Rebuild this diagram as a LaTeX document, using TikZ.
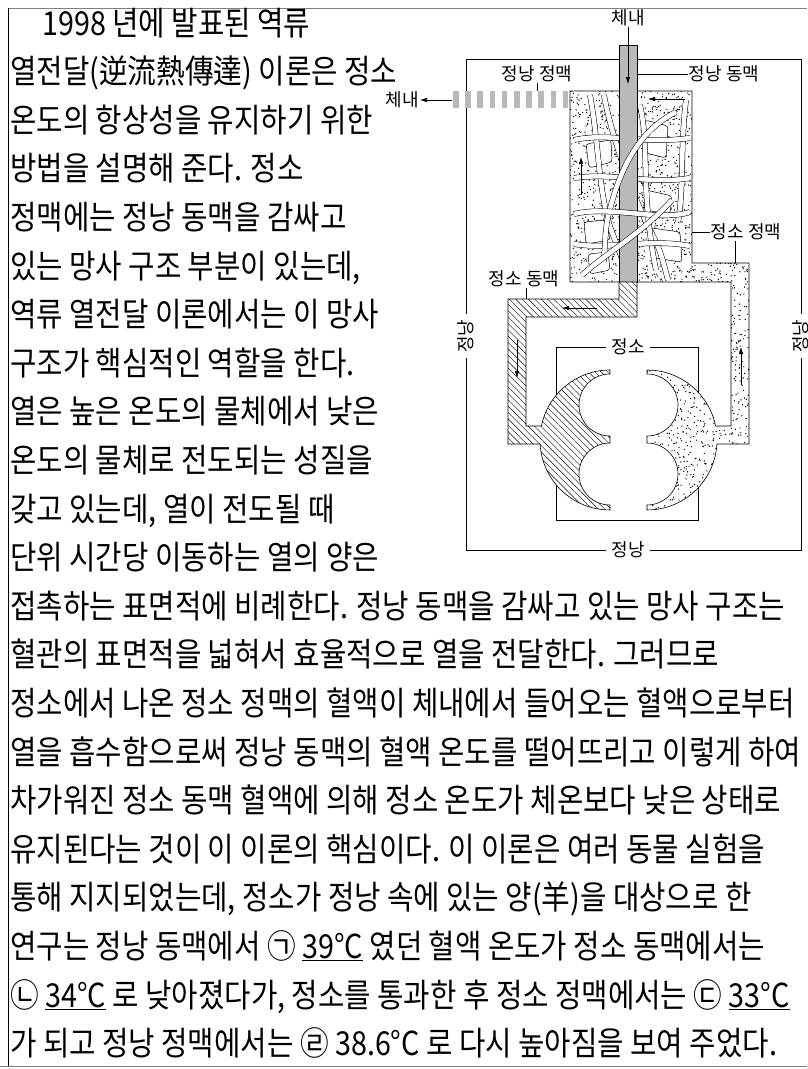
\documentclass[tikz,border=0pt]{standalone}
\usepackage{fontspec}
\usetikzlibrary{arrows.meta,patterns.meta}
\newfontfamily\bodyfont[FakeStretch=0.87]{Noto Sans CJK KR}
\newfontfamily\labelfont{Noto Sans CJK KR}

% vein (plexus + testicular vein + right half of testis), image coordinates
\newcommand{\veinpath}{(647,370) arc [start angle=-90, end angle=-11.5, radius=70]
  -- (731,426) -- (731,282) -- (570,282) -- (570,91) -- (692,91) -- (692,263)
  -- (749,263) -- (749,444) -- (716.9,444) arc [start angle=3.3, end angle=90, radius=70]
  -- (647,505) arc [start angle=90, end angle=-90, radius=31]
  -- (647,436) arc [start angle=90, end angle=-90, radius=31] -- cycle}
% testicular artery + left half of testis
\newcommand{\arterypath}{(610,370) arc [start angle=-90, end angle=-168.5, radius=70]
  -- (526,426) -- (526,317) -- (637,317) -- (637,282) -- (619,282) -- (619,299)
  -- (508,299) -- (508,444) -- (540.1,444) arc [start angle=-183.3, end angle=-270, radius=70]
  -- (610,505) arc [start angle=90, end angle=270, radius=31]
  -- (610,436) arc [start angle=90, end angle=270, radius=31] -- cycle}

\begin{document}
\begin{tikzpicture}[x=1pt, y=-1pt,
    body/.style={font=\bodyfont\fontsize{33}{40}\selectfont, anchor=base west, inner sep=0pt},
    lbl/.style={font=\labelfont\fontsize{18}{20}\selectfont, inner sep=1pt},
    gap/.style={fill=white, inner xsep=5pt},
    flow/.style={-{Latex[length=7pt, width=4.5pt]}, line width=0.6pt},
    tube/.style={draw=black, line width=0.5pt, double=white, double distance=4.6pt},
    blob/.style={draw=black, line width=0.5pt, fill=white, rounded corners=3pt},
    artery/.style={fill=gray!55, draw=black, line width=0.5pt}]
    \useasboundingbox (0,0) rectangle (807,1069);

    % frame
    \draw [gray, line width=1pt] (8,8) to (807,8);
    \draw [line width=1pt] (8,8) to (8,1066);
    \draw [gray, line width=1pt] (0,1066) to (807,1066);

    % text
    \node [body] (line1) at (42,35) {1998 년에 발표된 역류};
    \node [body] (line2) at (10,83.6) {열전달(逆流熱傳達) 이론은 정소};
    \node [body] (line3) at (10,132.2) {온도의 항상성을 유지하기 위한};
    \node [body] (line4) at (10,180.8) {방법을 설명해 준다. 정소};
    \node [body] (line5) at (10,229.4) {정맥에는 정낭 동맥을 감싸고};
    \node [body] (line6) at (10,278) {있는 망사 구조 부분이 있는데,};
    \node [body] (line7) at (10,326.6) {역류 열전달 이론에서는 이 망사};
    \node [body] (line8) at (10,375.2) {구조가 핵심적인 역할을 한다.};
    \node [body] (line9) at (10,423.8) {열은 높은 온도의 물체에서 낮은};
    \node [body] (line10) at (10,472.4) {온도의 물체로 전도되는 성질을};
    \node [body] (line11) at (10,521) {갖고 있는데, 열이 전도될 때};
    \node [body] (line12) at (10,569.6) {단위 시간당 이동하는 열의 양은};
    \node [body] (line13) at (10,618.2) {접촉하는 표면적에 비례한다. 정낭 동맥을 감싸고 있는 망사 구조는};
    \node [body] (line14) at (10,666.8) {혈관의 표면적을 넓혀서 효율적으로 열을 전달한다. 그러므로};
    \node [body] (line15) at (10,715.4) {정소에서 나온 정소 정맥의 혈액이 체내에서 들어오는 혈액으로부터};
    \node [body] (line16) at (10,764) {열을 흡수함으로써 정낭 동맥의 혈액 온도를 떨어뜨리고 이렇게 하여};
    \node [body] (line17) at (10,812.6) {차가워진 정소 동맥 혈액에 의해 정소 온도가 체온보다 낮은 상태로};
    \node [body] (line18) at (10,861.2) {유지된다는 것이 이 이론의 핵심이다. 이 이론은 여러 동물 실험을};
    \node [body] (line19) at (10,909.8) {통해 지지되었는데, 정소가 정낭 속에 있는 양(羊)을 대상으로 한};
    \node [body] (line20) at (10,958.4) {연구는 정낭 동맥에서 ㉠ \underline{39°C} 였던 혈액 온도가 정소 동맥에서는};
    \node [body] (line21) at (10,1007) {㉡ \underline{34°C} 로 낮아졌다가, 정소를 통과한 후 정소 정맥에서는 ㉢ \underline{33°C}};
    \node [body] (line22) at (10,1055.6) {가 되고 정낭 정맥에서는 ㉣ 38.6°C 로 다시 높아짐을 보여 주었다.};

    % scrotum and testis boxes
    \draw [line width=0.6pt] (466,59) rectangle (801,550);
    \node [lbl, gap, rotate=90] (scrotumL) at (466,336) {정낭};
    \node [lbl, gap, rotate=90] (scrotumR) at (801,336) {정낭};
    \node [lbl, gap] (scrotumB) at (628,550) {정낭};
    \draw [line width=0.6pt] (556,347) rectangle (698,520);
    \node [lbl, gap] (testis) at (628,347) {정소};

    % scrotal vein, striped
    \fill [white] (453,91) rectangle (570,108);
    \foreach \i in {0,...,9}
        \fill [gray!55] ({453+12.2*\i},91) rectangle ({458.5+12.2*\i},108);
    \coordinate (veinout) at (452,100);

    % stippled vein
    \fill [white] \veinpath;
    \begin{scope}
        \clip \veinpath;
        \pgfmathsetseed{11}
        \foreach \i in {1,...,3600}
            \fill ({570+180*rnd},{91+420*rnd}) circle [radius=0.7];
    \end{scope}
    \draw [line width=0.6pt] \veinpath;

    % plexus network, back
    \begin{scope}
        \clip (571,92) rectangle (691,281);
        \draw [blob] (586,144) -- (611,140) -- (612,162) -- (589,168) -- cycle;
        \draw [blob] (645,120) -- (668,126) -- (666,158) -- (642,152) -- cycle;
        \draw [blob] (584,222) -- (606,220) -- (610,240) -- (586,244) -- cycle;
        \draw [blob] (646,190) -- (672,196) -- (670,214) -- (644,210) -- cycle;
        \draw [blob] (588,254) -- (608,252) -- (610,270) -- (590,274) -- cycle;
        \draw [blob] (652,228) -- (680,232) -- (682,262) -- (654,258) -- cycle;
        \draw [tube] (590,95) .. controls (600,150) and (598,200) .. (615,240) .. controls (622,258) .. (628,280);
        \draw [tube] (604,95) .. controls (610,130) and (630,190) .. (650,230) .. controls (660,250) .. (668,280);
        \draw [tube] (686,100) .. controls (680,150) and (684,190) .. (678,222);
        \draw [tube] (640,105) .. controls (650,150) and (640,190) .. (656,270);
        \draw [tube] (574,140) .. controls (610,132) and (640,145) .. (690,138);
        \draw [tube] (574,178) .. controls (615,172) and (650,185) .. (690,178);
        \draw [tube] (574,244) .. controls (610,250) and (650,238) .. (690,246);
    \end{scope}

    % spermatic artery
    \draw [artery] (619,45) rectangle (637,282);

    % plexus network, front
    \begin{scope}
        \clip (571,92) rectangle (691,281);
        \draw [tube] (676,112) .. controls (650,125) and (628,150) .. (614,195) .. controls (606,222) .. (604,262);
        \draw [tube] (574,214) .. controls (610,205) and (660,222) .. (690,212);
        \draw [tube] (582,275) .. controls (610,250) and (640,235) .. (672,200);
    \end{scope}

    % hatched artery
    \fill [white] \arterypath;
    \draw [line width=0.6pt, pattern={Lines[angle=-45, distance=4.5pt, line width=0.4pt]}] \arterypath;

    % flow arrows
    \draw [flow] (685,99) to (648,99);
    \draw [flow] (581,195) to (581,157);
    \draw [flow] (597,308) to (562,308);
    \draw [flow] (517,340) to (517,378);
    \draw [flow] (741,385) to (741,347);

    % labels
    \node [lbl] (bodyin) at (628,18) {체내};
    \coordinate (arterytip) at (628,84);
    \draw [flow] (bodyin) to (arterytip);
    \node [lbl, anchor=east] (bodyout) at (420,100) {체내};
    \draw [flow] (veinout) to (bodyout);
    \node [lbl] (pvlabel) at (537,74) {정낭 정맥};
    \draw [line width=0.6pt] (pvlabel.south) to (537,91);
    \node [lbl] (palabel) at (724,74) {정낭 동맥};
    \draw [line width=0.6pt] (palabel.west) to (637,74);
    \node [lbl] (tvlabel) at (746,232) {정소 정맥};
    \draw [line width=0.6pt] (tvlabel.west) to (692,232);
    \draw [line width=0.6pt] ([xshift=-11pt]tvlabel.south) to (735,263);
    \node [lbl] (talabel) at (524,279) {정소 동맥};
    \draw [line width=0.6pt] ([xshift=2pt]talabel.south) to (526,299);
\end{tikzpicture}
\end{document}
